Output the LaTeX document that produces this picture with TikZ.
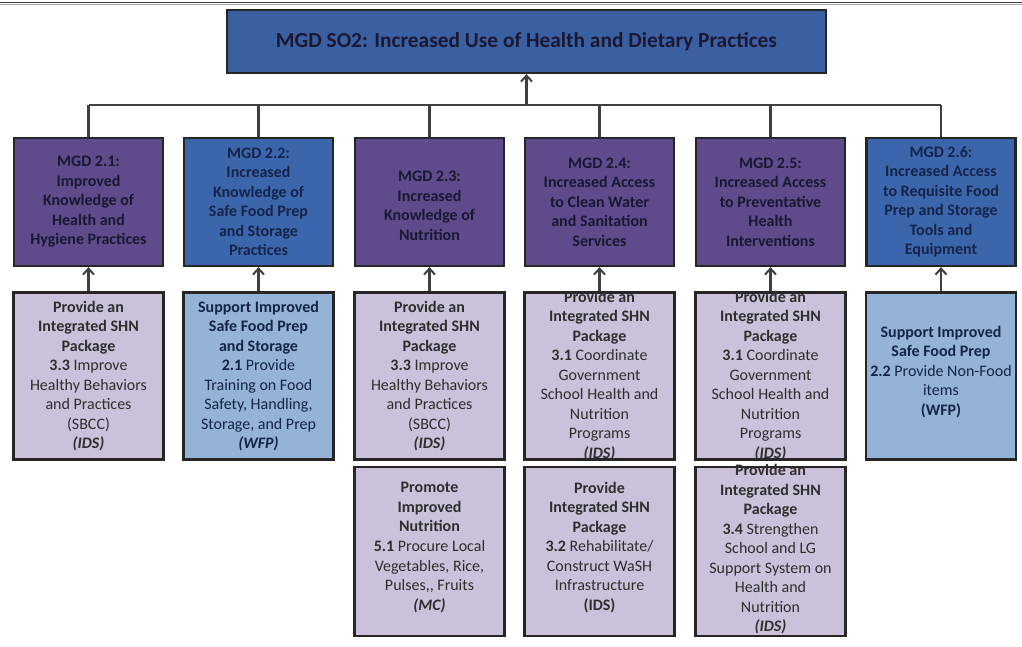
\documentclass[tikz,border=0pt]{standalone}
\usepackage{fontspec}
\setmainfont{Carlito}
\usetikzlibrary{arrows.meta}
\definecolor{topblue}{HTML}{3B60A2}
\definecolor{purp}{HTML}{5F4A8B}
\definecolor{midblue}{HTML}{3C66AB}
\definecolor{lpurp}{HTML}{CCC1DA}
\definecolor{lblue}{HTML}{95B3D7}
\definecolor{edge}{HTML}{262626}
\definecolor{ink}{HTML}{1A1833}
\definecolor{navy}{HTML}{14244A}
\definecolor{body}{HTML}{2E2E2E}
\definecolor{conn}{HTML}{404040}
\begin{document}
\begin{tikzpicture}[x=1pt,y=-1pt,
  boxbase/.style={draw=edge, line width=2.2pt, inner sep=0pt},
  topbox/.style={boxbase, fill=topblue, minimum width=599pt, minimum height=63pt},
  lvtwo/.style={boxbase, minimum width=149pt, minimum height=128pt},
  lvthree/.style={boxbase, minimum width=150pt, minimum height=167pt},
  lvfour/.style={boxbase, minimum width=150pt, minimum height=169pt},
  txt/.style={inner sep=0pt, align=center, font=\fontsize{16}{19.5}\selectfont},
  txttwo/.style={txt, font=\fontsize{16}{19.5}\selectfont\bfseries},
  link/.style={draw=conn, line width=2.2pt},
  arr/.style={link, -{Straight Barb[length=6pt,width=11pt,line width=2pt]}}
]
\useasboundingbox (0,0) rectangle (1022,646);
\draw[line width=1.8pt, black!75] (0,2.5) -- (1022,2.5);
\draw[line width=1pt, black!35] (0,4.8) -- (1022,4.8);

% top
\node[topbox] (top) at (526.5,41.5) {};
\node[txt, text=ink, font=\fontsize{21.4}{25}\selectfont\bfseries] (ttop) at (top.center) {MGD SO2: Increased Use of Health and Dietary Practices};

% level 2
\node[lvtwo, fill=purp]    (m1) at (88.5,202) {};
\node[lvtwo, fill=midblue] (m2) at (258.5,202) {};
\node[lvtwo, fill=purp]    (m3) at (429.5,202) {};
\node[lvtwo, fill=purp]    (m4) at (599.5,202) {};
\node[lvtwo, fill=purp]    (m5) at (770.5,202) {};
\node[lvtwo, fill=midblue] (m6) at (941,202) {};

\node[txttwo, text=ink]  (tm1) at (m1.center) {MGD 2.1:\\Improved\\Knowledge of\\Health and\\Hygiene Practices};
\node[txttwo, text=navy] (tm2) at (m2.center) {MGD 2.2:\\Increased\\Knowledge of\\Safe Food Prep\\and Storage\\Practices};
\node[txttwo, text=ink]  (tm3) at ([yshift=-4pt]m3.center) {MGD 2.3:\\Increased\\Knowledge of\\Nutrition};
\node[txttwo, text=ink]  (tm4) at (m4.center) {MGD 2.4:\\Increased Access\\to Clean Water\\and Sanitation\\Services};
\node[txttwo, text=ink]  (tm5) at (m5.center) {MGD 2.5:\\Increased Access\\to Preventative\\Health\\Interventions};
\node[txttwo, text=navy] (tm6) at (m6.center) {MGD 2.6:\\Increased Access\\to Requisite Food\\Prep and Storage\\Tools and\\Equipment};

% bus
\coordinate (busL) at (m1.north |- 0,105);
\coordinate (busR) at (m6.north |- 0,105);
\coordinate (busT) at (top.south |- 0,105);
\draw[link] (busL) -- (busR);
\foreach \m in {m1,m2,m3,m4,m5,m6} \draw[link] (\m.north |- busL) -- (\m.north);
\draw[arr] (busT) -- (top.south);

% level 3
\node[lvthree, fill=lpurp] (a1) at (88.5,376) {};
\node[lvthree, fill=lblue] (a2) at (258.5,376) {};
\node[lvthree, fill=lpurp] (a3) at (429.5,376) {};
\node[lvthree, fill=lpurp] (a4) at (599.5,376) {};
\node[lvthree, fill=lpurp] (a5) at (770.5,376) {};
\node[lvthree, fill=lblue] (a6) at (941,376) {};

\node[txt, text=body] (ta1) at (a1.center) {\textbf{Provide an}\\\textbf{Integrated SHN}\\\textbf{Package}\\\textbf{3.3} Improve\\Healthy Behaviors\\and Practices\\(SBCC)\\\textbf{\textit{(IDS)}}};
\node[txt, text=navy] (ta2) at (a2.center) {\textbf{Support Improved}\\\textbf{Safe Food Prep}\\\textbf{and Storage}\\\textbf{2.1} Provide\\Training on Food\\Safety, Handling,\\Storage, and Prep\\\textbf{\textit{(WFP)}}};
\node[txt, text=body] (ta3) at (a3.center) {\textbf{Provide an}\\\textbf{Integrated SHN}\\\textbf{Package}\\\textbf{3.3} Improve\\Healthy Behaviors\\and Practices\\(SBCC)\\\textbf{\textit{(IDS)}}};
\node[txt, text=body] (ta4) at (a4.center) {\textbf{Provide an}\\\textbf{Integrated SHN}\\\textbf{Package}\\\textbf{3.1} Coordinate\\Government\\School Health and\\Nutrition\\Programs\\\textbf{\textit{(IDS)}}};
\node[txt, text=body] (ta5) at (a5.center) {\textbf{Provide an}\\\textbf{Integrated SHN}\\\textbf{Package}\\\textbf{3.1} Coordinate\\Government\\School Health and\\Nutrition\\Programs\\\textbf{\textit{(IDS)}}};
\node[txt, text=navy] (ta6) at ([yshift=4pt]a6.center) {\textbf{Support Improved}\\\textbf{Safe Food Prep}\\\textbf{2.2} Provide Non-Food\\items\\\textbf{(WFP)}};

\foreach \i in {1,...,6} \draw[arr] (a\i.north) -- (m\i.south);

% level 4
\node[lvfour, fill=lpurp] (b3) at (429.5,551.5) {};
\node[lvfour, fill=lpurp] (b4) at (599.5,551.5) {};
\node[lvfour, fill=lpurp] (b5) at (770.5,551.5) {};

\node[txt, text=body] (tb3) at ([yshift=4pt]b3.center) {\textbf{Promote}\\\textbf{Improved}\\\textbf{Nutrition}\\\textbf{5.1} Procure Local\\Vegetables, Rice,\\Pulses,{},{} Fruits\\\textbf{\textit{(MC)}}};
\node[txt, text=body] (tb4) at ([yshift=4pt]b4.center) {\textbf{Provide}\\\textbf{Integrated SHN}\\\textbf{Package}\\\textbf{3.2} Rehabilitate/\\Construct WaSH\\Infrastructure\\\textbf{(IDS)}};
\node[txt, text=body] (tb5) at ([yshift=2pt]b5.center) {\textbf{Provide an}\\\textbf{Integrated SHN}\\\textbf{Package}\\\textbf{3.4} Strengthen\\School and LG\\Support System on\\Health and\\Nutrition\\\textbf{\textit{(IDS)}}};
\end{tikzpicture}
\end{document}
